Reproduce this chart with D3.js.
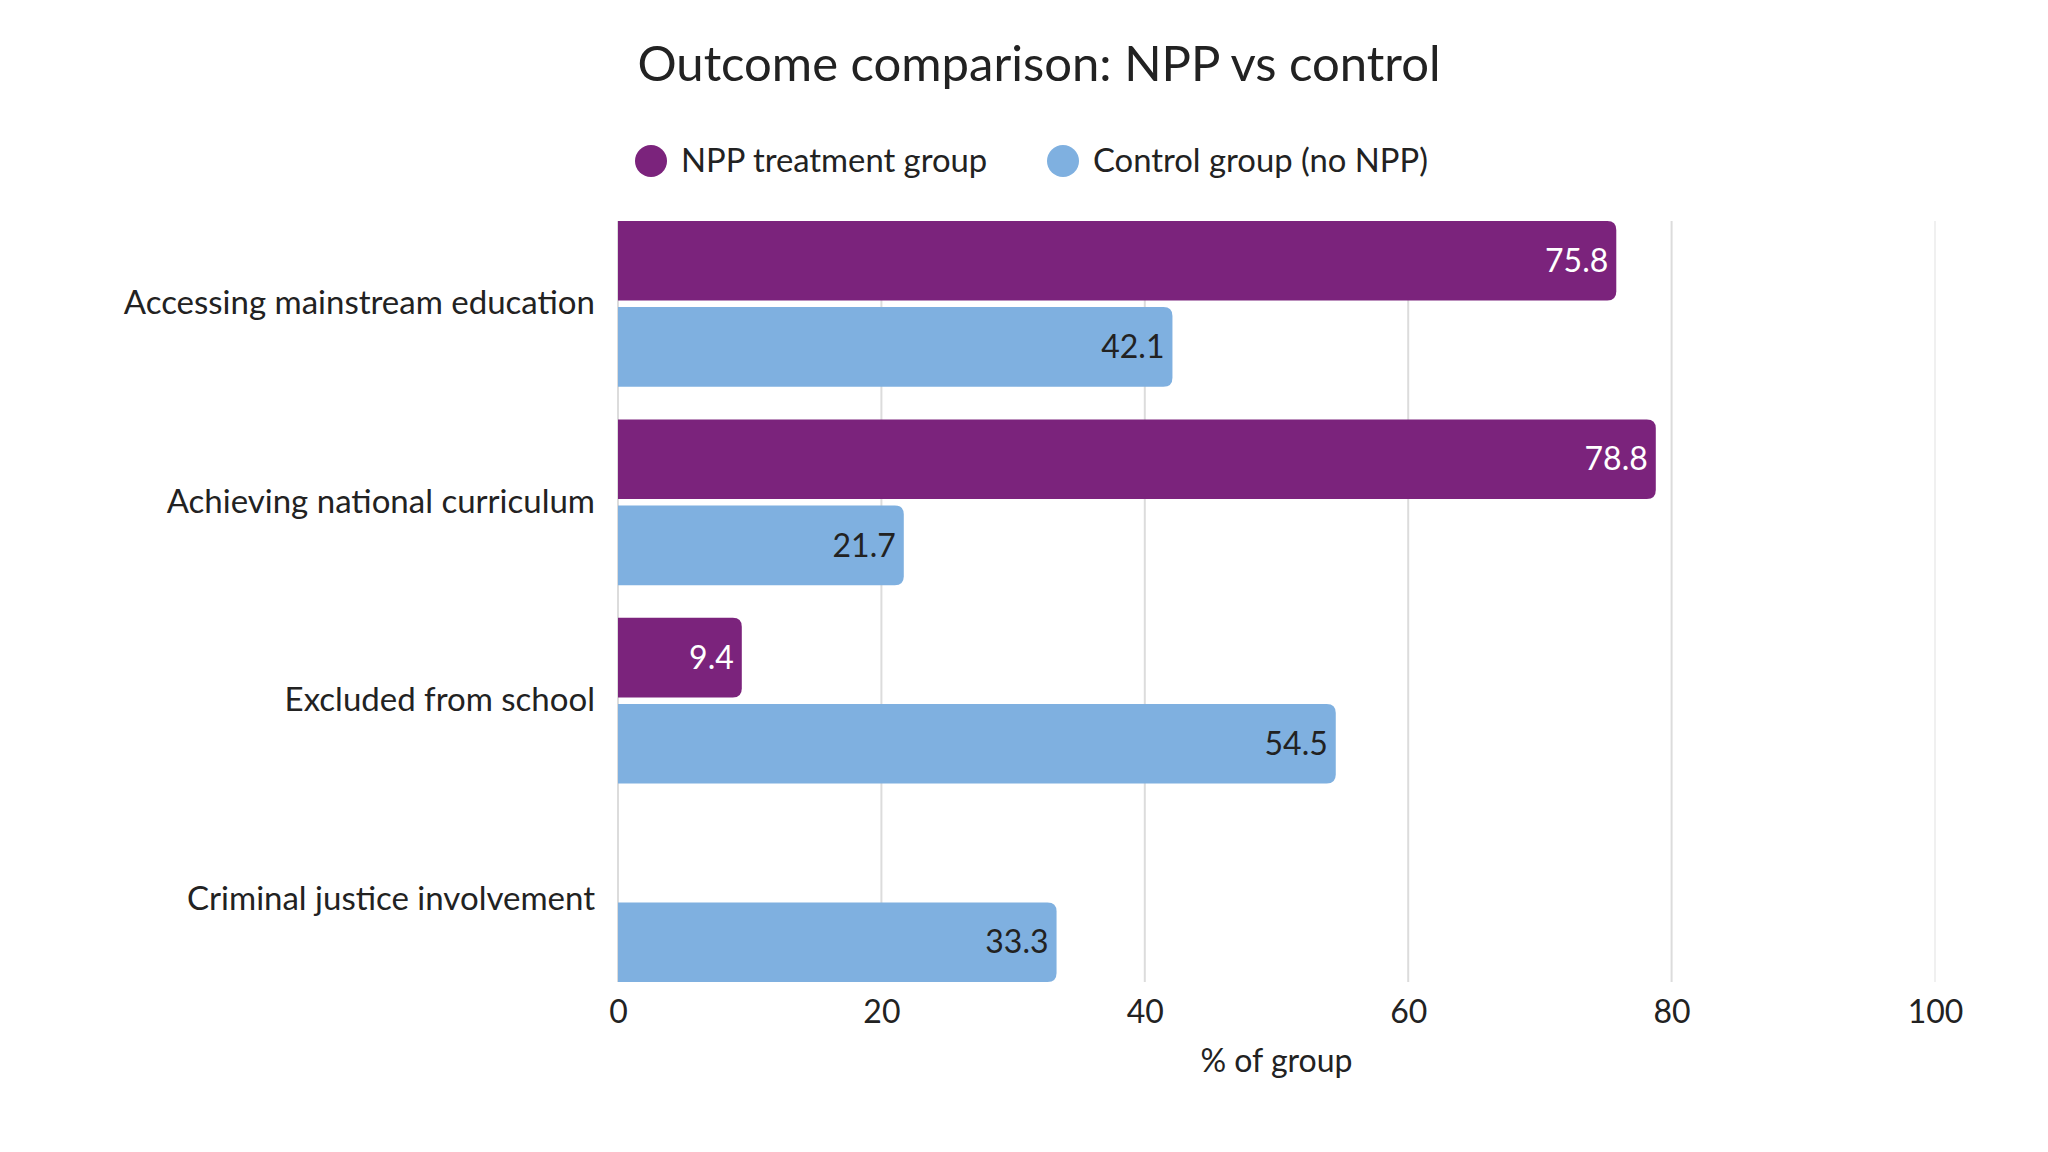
<!DOCTYPE html>
<html>
<head>
<meta charset="utf-8">
<script src="https://cdn.jsdelivr.net/npm/d3@7"></script>
<style>
  body { margin: 0; background: #fff; }
  text { font-family: Lato, "Noto Sans", sans-serif; fill: #222; }
</style>
</head>
<body>
<div id="chart"></div>
<script>
// data
const categories = ["Accessing mainstream education", "Achieving national curriculum", "Excluded from school", "Criminal justice involvement"];
const seriesNames = ["NPP treatment group", "Control group (no NPP)"];
const nppValues = [75.8, 78.8, 9.4, null];
const controlValues = [42.1, 21.7, 54.5, 33.3];
const xTicks = [0, 20, 40, 60, 80, 100];
const colors = ["#7b237c", "#7fb0e0"];

const W = 2048, H = 1152;
const margin = {top: 221, right: 113, bottom: 170, left: 618},
    width = W - margin.left - margin.right,
    height = H - margin.top - margin.bottom;

const svg = d3.select("#chart")
  .append("svg")
    .attr("width", W)
    .attr("height", H);

// title
svg.append("text")
  .attr("x", 1039)
  .attr("y", 81)
  .attr("text-anchor", "middle")
  .style("font-size", "49px")
  .text("Outcome comparison: NPP vs control");

// legend
const legendX = [651, 1063];
seriesNames.forEach(function(name, i) {
  svg.append("circle")
    .attr("cx", legendX[i])
    .attr("cy", 161)
    .attr("r", 16)
    .attr("fill", colors[i]);
  svg.append("text")
    .attr("x", legendX[i] + 30)
    .attr("y", 161)
    .attr("dy", "0.35em")
    .style("font-size", "32.8px")
    .text(name);
});

const g = svg.append("g")
  .attr("transform", `translate(${margin.left}, ${margin.top})`);

// scales
const x = d3.scaleLinear()
  .domain([0, 100])
  .range([0, width]);

const y = d3.scaleBand()
  .domain(categories)
  .range([0, height])
  .paddingInner(0.165)
  .paddingOuter(0);

const ySub = d3.scaleBand()
  .domain([0, 1])
  .range([0, y.bandwidth()])
  .paddingInner(0.075);

// gridlines
g.selectAll(".grid")
  .data(xTicks)
  .join("line")
    .attr("class", "grid")
    .attr("x1", d => x(d))
    .attr("x2", d => x(d))
    .attr("y1", 0)
    .attr("y2", height)
    .attr("stroke", d => d === 100 ? "#f0f0f0" : "#dcdcdc")
    .attr("stroke-width", 2);

// x axis
const xAxis = g.append("g")
  .attr("transform", `translate(0, ${height})`)
  .call(d3.axisBottom(x).tickValues(xTicks).tickSize(0).tickPadding(18));
xAxis.select(".domain").remove();
xAxis.selectAll("text")
  .style("font-size", "32px")
  .style("font-family", "Lato, sans-serif")
  .attr("fill", "#222");

g.append("text")
  .attr("x", width / 2)
  .attr("y", height + 79)
  .attr("dy", "0.35em")
  .attr("text-anchor", "middle")
  .style("font-size", "32px")
  .text("% of group");

// y axis labels
const yAxis = g.append("g")
  .call(d3.axisLeft(y).tickSize(0).tickPadding(23));
yAxis.select(".domain").remove();
yAxis.selectAll("text")
  .style("font-size", "33px")
  .style("font-family", "Lato, sans-serif")
  .attr("fill", "#222");

// bars: rounded on the right end only
function barPath(x0, x1, y0, h, r) {
  r = Math.min(r, (x1 - x0) / 2, h / 2);
  return `M${x0},${y0}H${x1 - r}Q${x1},${y0} ${x1},${y0 + r}` +
    `V${y0 + h - r}Q${x1},${y0 + h} ${x1 - r},${y0 + h}H${x0}Z`;
}

const rows = [];
categories.forEach(function(c, i) {
  [nppValues[i], controlValues[i]].forEach(function(v, s) {
    if (v !== null) rows.push({cat: c, series: s, value: v});
  });
});

g.selectAll(".bar")
  .data(rows)
  .join("path")
    .attr("class", "bar")
    .attr("d", d => barPath(x(0), x(d.value), y(d.cat) + ySub(d.series), ySub.bandwidth(), 9))
    .attr("fill", d => colors[d.series]);

g.selectAll(".val")
  .data(rows)
  .join("text")
    .attr("class", "val")
    .attr("x", d => x(d.value) - 8)
    .attr("y", d => y(d.cat) + ySub(d.series) + ySub.bandwidth() / 2)
    .attr("dy", "0.35em")
    .attr("text-anchor", "end")
    .style("font-size", "32px")
    .style("fill", d => d.series === 0 ? "#fff" : "#222")
    .text(d => d.value.toFixed(1));
</script>
</body>
</html>
